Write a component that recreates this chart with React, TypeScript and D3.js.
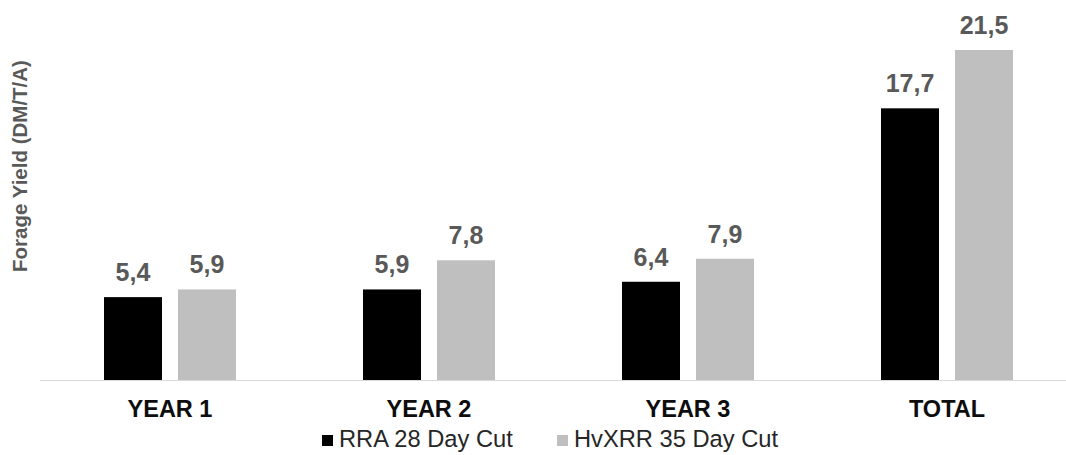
import React from "react";
import * as d3 from "d3";

const categories = ["YEAR 1", "YEAR 2", "YEAR 3", "TOTAL"];
const seriesNames = ["RRA 28 Day Cut", "HvXRR 35 Day Cut"];
const rraValues = [5.4, 5.9, 6.4, 17.7];
const hvxrrValues = [5.9, 7.8, 7.9, 21.5];
const seriesColors = ["#000000", "#bfbfbf"];
const yTitle = "Forage Yield (DM/T/A)";

const W = 1066;
const H = 455;

const fmt = (v: number) => v.toFixed(1).replace(".", ",");

export default function App() {
  const x = d3.scaleBand<string>().domain(categories).range([40.5, 1076.5]).paddingInner(0).paddingOuter(0);
  const inner = d3
    .scaleBand<string>()
    .domain(seriesNames)
    .range([63.5, 195.5])
    .paddingInner(16 / 74)
    .paddingOuter(0);
  const y = d3.scaleLinear().domain([0, 21.5]).range([380, 50]);
  const seriesValues = [rraValues, hvxrrValues];
  const font = "'Liberation Sans', Arial, sans-serif";
  const legendX = [322, 557];

  return (
    <svg
      width={W}
      height={H}
      style={{ position: "absolute", left: 0, top: 0, background: "#fff" }}
      fontFamily={font}
    >
      <rect x={0} y={0} width={W} height={H} fill="#fff" />
      {seriesNames.map((s, si) =>
        categories.map((c, ci) => {
          const v = seriesValues[si][ci];
          const bx = (x(c) as number) + (inner(s) as number);
          return (
            <g key={s + c}>
              <rect x={bx} y={y(v)} width={inner.bandwidth()} height={y(0) - y(v)} fill={seriesColors[si]} />
              <text
                x={bx + inner.bandwidth() / 2}
                y={y(v) - 16}
                textAnchor="middle"
                fontSize={25}
                fontWeight="bold"
                fill="#595959"
              >
                {fmt(v)}
              </text>
            </g>
          );
        })
      )}
      <line x1={40} x2={W} y1={y(0) + 0.5} y2={y(0) + 0.5} stroke="#d9d9d9" strokeWidth={1} />
      {categories.map((c) => (
        <text
          key={c}
          x={(x(c) as number) + x.bandwidth() / 2}
          y={417}
          textAnchor="middle"
          fontSize={23.5}
          fontWeight="bold"
          fill="#0d0d0d"
        >
          {c}
        </text>
      ))}
      <text
        transform={`translate(27,166) rotate(-90)`}
        textAnchor="middle"
        fontSize={20.5}
        fontWeight="bold"
        fill="#595959"
      >
        {yTitle}
      </text>
      {seriesNames.map((s, si) => {
        const lx = legendX[si];
        return (
          <g key={s}>
            <rect x={lx} y={435} width={11} height={11} fill={seriesColors[si]} />
            <text x={lx + 17} y={447} fontSize={23.7} fill="#262626">
              {s}
            </text>
          </g>
        );
      })}
    </svg>
  );
}
